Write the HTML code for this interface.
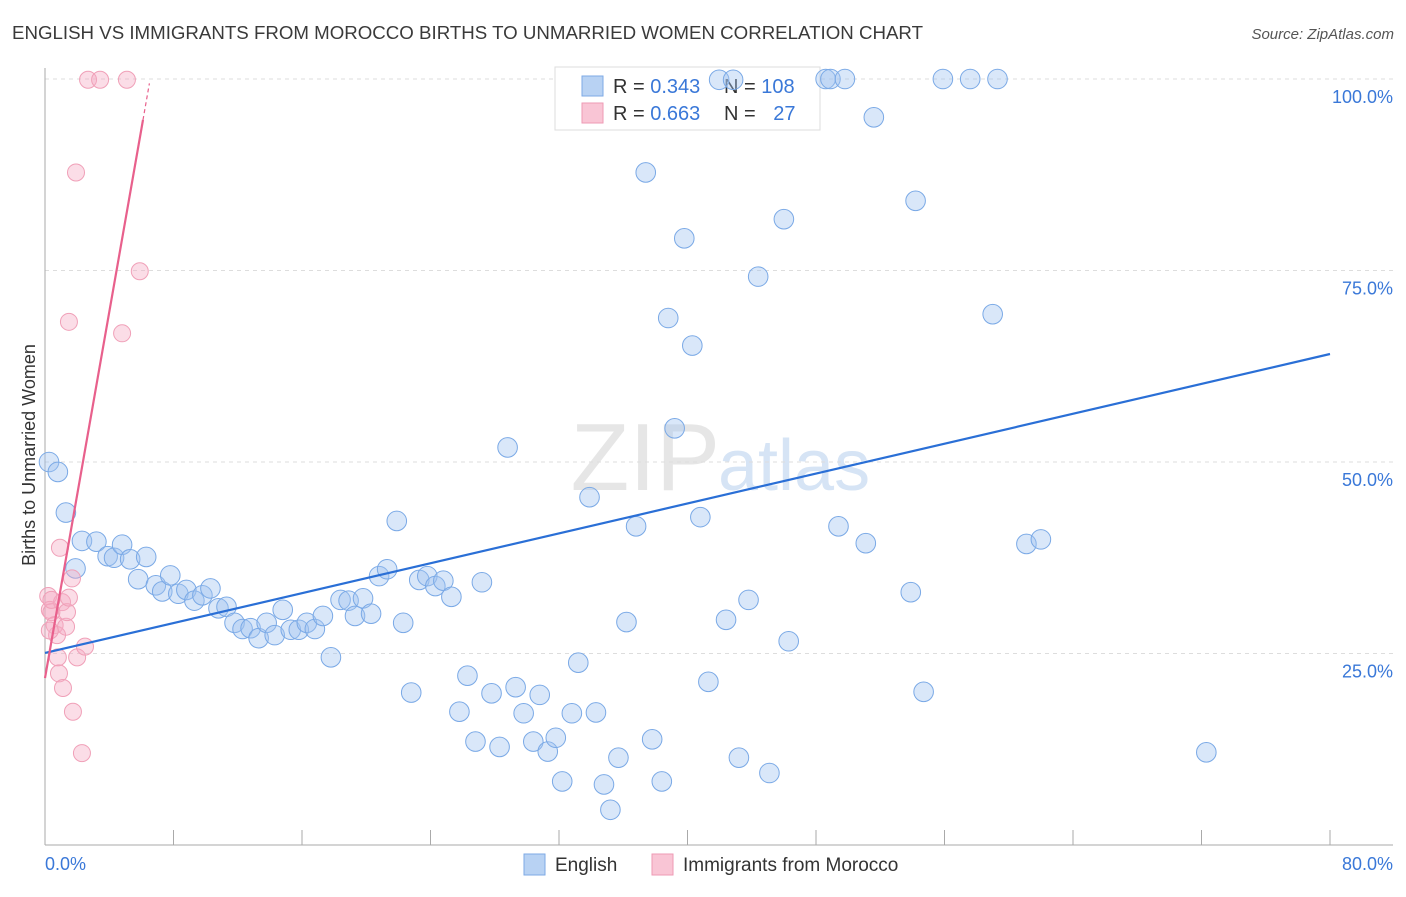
<!DOCTYPE html>
<html><head><meta charset="utf-8"><style>
body{margin:0;background:#fff;font-family:"Liberation Sans",sans-serif}
svg text{font-family:"Liberation Sans",sans-serif}
</style></head><body>
<svg width="1406" height="892">
<text x="12" y="39" font-size="18.6" fill="#3a3a3a" textLength="911" lengthAdjust="spacingAndGlyphs">ENGLISH VS IMMIGRANTS FROM MOROCCO BIRTHS TO UNMARRIED WOMEN CORRELATION CHART</text>
<text x="1394" y="39" font-size="15" fill="#555" font-style="italic" text-anchor="end">Source: ZipAtlas.com</text>
<text x="720" y="490" font-size="96" fill="#e6e6e6" text-anchor="end" font-family="Liberation Serif">ZIP</text>
<text x="718" y="490" font-size="72" fill="#d6e4f5">atlas</text>
<g id="grid"></g>
<g>
<rect x="555" y="67" width="265" height="63" fill="#fff" stroke="#ddd"/>
<rect x="582" y="76" width="21" height="20" fill="#b8d2f3" stroke="#7eaae6"/>
<rect x="582" y="103" width="21" height="20" fill="#f9c5d5" stroke="#ee9ab4"/>
<text x="613" y="93" font-size="20" fill="#333">R = <tspan fill="#3a78d8">0.343</tspan></text>
<text x="724" y="93" font-size="20" fill="#333">N = <tspan fill="#3a78d8">108</tspan></text>
<text x="613" y="120" font-size="20" fill="#333">R = <tspan fill="#3a78d8">0.663</tspan></text>
<text x="724" y="120" font-size="20" fill="#333">N = <tspan fill="#3a78d8" dx="12">27</tspan></text>
</g>
<g id="pts"></g>
<g id="lines"></g>
<text x="35" y="455" font-size="18" fill="#333" text-anchor="middle" transform="rotate(-90 35 455)">Births to Unmarried Women</text>
<text x="45" y="870" font-size="18" fill="#3a78d8">0.0%</text>
<text x="1393" y="870" font-size="18" fill="#3a78d8" text-anchor="end">80.0%</text>
<g>
<rect x="524" y="854" width="21" height="21" fill="#b8d2f3" stroke="#7eaae6"/>
<text x="555" y="871" font-size="19" fill="#333">English</text>
<rect x="652" y="854" width="21" height="21" fill="#f9c5d5" stroke="#ee9ab4"/>
<text x="683" y="871" font-size="19" fill="#333">Immigrants from Morocco</text>
</g>
</svg>
<script>
const englishX=[0.25,0.8,1.3,2.3,3.2,1.9,3.9,4.3,4.8,5.3,6.3,5.8,6.9,7.3,7.8,8.3,8.8,9.3,9.8,10.3,10.8,11.3,11.8,12.3,12.8,13.3,13.8,14.3,14.8,15.3,15.8,16.3,16.8,17.3,17.8,18.4,18.9,19.3,19.8,20.3,20.8,21.3,21.9,22.3,22.8,23.3,23.8,24.3,24.8,25.3,25.8,26.3,26.8,27.2,27.8,28.3,28.8,29.3,29.8,30.4,30.8,31.3,31.8,32.2,32.8,33.2,33.9,34.3,34.8,35.2,35.7,36.2,36.8,37.4,37.8,38.4,38.8,39.2,39.8,40.3,40.8,41.3,41.97,42.4,42.84,43.2,43.8,44.4,45.1,46.0,46.3,48.6,48.9,49.4,49.8,51.1,51.6,53.9,54.2,54.7,55.9,57.6,59.0,59.3,61.1,62.0,72.3];
const englishY=[50.0,48.7,43.4,39.7,39.6,36.1,37.7,37.5,39.2,37.3,37.6,34.7,33.9,33.1,35.2,32.8,33.3,31.9,32.6,33.5,30.9,31.1,29.0,28.2,28.3,27.0,29.0,27.4,30.7,28.1,28.1,29.0,28.2,29.9,24.5,32.0,31.9,29.9,32.2,30.2,35.1,36.0,42.3,29.0,19.9,34.6,35.1,33.8,34.5,32.4,17.4,22.1,13.5,34.3,19.8,12.8,51.9,20.6,17.2,13.5,19.6,12.2,14.0,8.3,17.2,23.8,45.4,17.3,7.9,4.6,11.4,29.1,41.6,87.8,13.8,8.3,68.8,54.4,79.2,65.2,42.8,21.3,99.9,29.4,99.9,11.4,32.0,74.2,9.4,81.7,26.6,100,100,41.6,100,39.4,95.0,33.0,84.1,20.0,100,100,69.3,100,39.3,39.9,12.1];
const moroccoX=[0.2,0.3,0.4,0.6,0.75,0.8,0.87,0.93,1.06,1.12,1.31,1.37,1.49,1.49,1.68,1.74,1.93,2.0,2.3,2.49,2.68,3.43,4.8,5.1,5.9,0.3,0.4];
const moroccoY=[32.5,30.7,30.4,28.7,27.4,24.5,22.4,38.8,31.7,20.5,28.5,30.4,32.3,68.3,34.8,17.4,87.8,24.5,12.0,25.9,99.9,99.9,66.8,99.9,74.9,28.0,32.0];
const engLine=[25.07,64.1], morLine=[21.8,94.65,6.1];
const yTicks=[25,50,75,100], yTickLabels=["25.0%","50.0%","75.0%","100.0%"];
const X0=45,X1=1330,Y0=845,YS=7.66;
const sx=v=>X0+v/80*(X1-X0), sy=v=>Y0-v*YS;
const NS="http://www.w3.org/2000/svg";
function mk(t,a,p){const e=document.createElementNS(NS,t);for(const k in a)e.setAttribute(k,a[k]);p.appendChild(e);return e;}
const grid=document.getElementById('grid');
yTicks.forEach((t,i)=>{
 const l=mk('line',{x1:45,x2:1393,y1:sy(t),y2:sy(t),stroke:'#ddd','stroke-dasharray':'4,4'},grid);
 
 
 const tx=mk('text',{x:1393,y:sy(t)+24,'font-size':18,fill:'#3a78d8','text-anchor':'end'},grid);
 tx.textContent=yTickLabels[i];
 
 
});
const ax=mk('line',{x1:45,x2:1393,y1:Y0,y2:Y0,stroke:'#aaa'},grid);


const ay=mk('line',{x1:45,x2:45,y1:68,y2:Y0,stroke:'#aaa'},grid);


for(let i=0;i<=10;i++){const t=mk('line',{x1:sx(i*8),x2:sx(i*8),y1:Y0-15,y2:Y0,stroke:'#aaa'},grid);
 
 }
const pts=document.getElementById('pts');
englishX.forEach((x,i)=>{const c=mk('circle',{cx:sx(x),cy:sy(englishY[i]),r:9.8,fill:'rgba(160,196,240,0.4)',stroke:'#7aa9e6','stroke-width':1},pts);
 
 });
moroccoX.forEach((x,i)=>{const c=mk('circle',{cx:sx(x),cy:sy(moroccoY[i]),r:8.5,fill:'rgba(245,170,195,0.4)',stroke:'#f0a0b8','stroke-width':1},pts);
 
 });
const lines=document.getElementById('lines');
const bl=mk('line',{x1:sx(0),y1:sy(engLine[0]),x2:sx(80),y2:sy(engLine[1]),stroke:'#2a6fd6','stroke-width':2.2},lines);


const slope=(morLine[1]-morLine[0])/morLine[2];
const pl=mk('line',{x1:sx(0),y1:sy(morLine[0]),x2:sx(morLine[2]),y2:sy(morLine[1]),stroke:'#e8608c','stroke-width':2.2},lines);


const xe=morLine[2]+0.4;
const pd=mk('line',{x1:sx(morLine[2]),y1:sy(morLine[1]),x2:sx(xe),y2:sy(morLine[0]+slope*xe),stroke:'#e8608c','stroke-width':1.2,'stroke-dasharray':'4,3'},lines);


</script>
</body></html>
